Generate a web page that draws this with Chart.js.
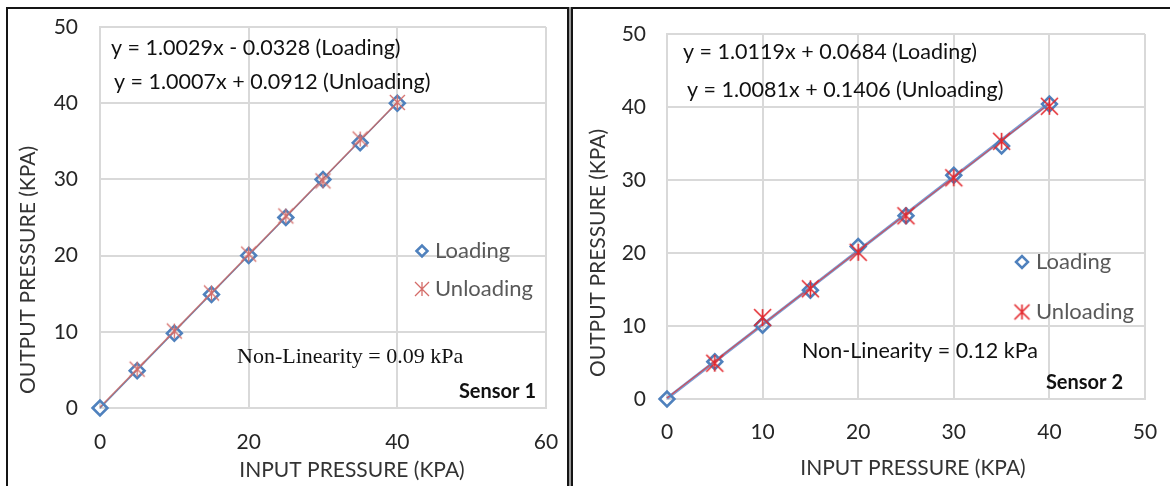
<!DOCTYPE html>
<html>
<head>
<meta charset="utf-8">
<script src="https://cdn.jsdelivr.net/npm/chart.js@4.4.1/dist/chart.umd.min.js"></script>
<style>
  body { margin: 0; background: #fff; }
  #page { position: relative; width: 1170px; height: 486px; overflow: hidden; background: #fff; }
  .frame { position: absolute; box-sizing: border-box; border: 2px solid #151515; }
  #frame1 { left: 6px; top: 7px; width: 563px; height: 540px; }
  #gap { position: absolute; left: 569px; top: 7px; width: 2px; height: 540px; background: #9a9a9a; }
  #frame2 { left: 571px; top: 7px; width: 660px; height: 540px; }
  canvas { position: absolute; top: 0; }
  #sensor1 { left: 0; }
  #sensor2 { left: 574px; }
</style>
</head>
<body>
<div id="page">
  <div class="frame" id="frame1"></div>
  <div id="gap"></div>
  <div class="frame" id="frame2"></div>
  <canvas id="sensor1" width="568" height="486"></canvas>
  <canvas id="sensor2" width="596" height="486"></canvas>
</div>
<script>
// input pressure steps (kPa), shared by both sensors
const inputKpa = [0, 5, 10, 15, 20, 25, 30, 35, 40];
const yTicks = [0, 10, 20, 30, 40, 50];

// sensor 1
const s1XTicks = [0, 20, 40, 60];
const s1Loading = [0, 4.9, 9.8, 14.9, 20.0, 25.0, 30.0, 34.8, 40.0];
const s1Unloading = [null, 5.1, 10.1, 15.1, 20.2, 25.2, 29.8, 35.3, 40.1];
const s1Slopes = [1.0029, 1.0007];
const s1Intercepts = [-0.0328, 0.0912];
const s1NonLin = 0.09;

// sensor 2
const s2XTicks = [0, 10, 20, 30, 40, 50];
const s2Loading = [0, 5.1, 10.1, 14.9, 20.9, 25.1, 30.65, 34.65, 40.4];
const s2Unloading = [null, 4.9, 11.15, 15.1, 20.1, 25.1, 30.3, 35.3, 40.1];
const s2Slopes = [1.0119, 1.0081];
const s2Intercepts = [0.0684, 0.1406];
const s2NonLin = 0.12;

const seriesNames = ['Loading', 'Unloading'];

const SANS = "Lato, 'Liberation Sans', sans-serif";
const GRID = '#D9D9D9';

function toPoints(ys) {
  return inputKpa.map((x, i) => ({ x: x, y: ys[i] })).filter(p => p.y !== null);
}

function fitLine(m, b) {
  const xs = [inputKpa[0], inputKpa[inputKpa.length - 1]];
  return xs.map(x => ({ x: x, y: m * x + b }));
}

function equation(m, b, name) {
  const sign = b < 0 ? '-' : '+';
  return 'y = ' + m.toFixed(4) + 'x ' + sign + ' ' + Math.abs(b).toFixed(4) + ' (' + name + ')';
}

// excel style star: an x with a vertical bar through it
function starMarker(h, color, lw) {
  const c = document.createElement('canvas');
  const s = Math.ceil(2 * h + 4);
  c.width = s; c.height = s;
  const g = c.getContext('2d');
  const m = s / 2;
  g.strokeStyle = color;
  g.lineWidth = lw;
  g.beginPath();
  g.moveTo(m - h, m - h); g.lineTo(m + h, m + h);
  g.moveTo(m + h, m - h); g.lineTo(m - h, m + h);
  g.moveTo(m, m - h); g.lineTo(m, m + h);
  g.stroke();
  return c;
}

function drawDiamond(ctx, x, y, r, color, lw) {
  ctx.beginPath();
  ctx.moveTo(x - r, y);
  ctx.lineTo(x, y - r);
  ctx.lineTo(x + r, y);
  ctx.lineTo(x, y + r);
  ctx.closePath();
  ctx.strokeStyle = color;
  ctx.lineWidth = lw;
  ctx.stroke();
}

// free text, axis titles and the small legend inside the plot
const panelText = {
  id: 'panelText',
  afterDraw(chart, args, opts) {
    const ctx = chart.ctx;
    ctx.save();
    ctx.textBaseline = 'middle';
    opts.items.forEach(t => {
      ctx.save();
      ctx.font = t.font;
      ctx.fillStyle = t.color;
      ctx.textAlign = t.align || 'left';
      ctx.translate(t.x, t.y);
      if (t.rotate) ctx.rotate(t.rotate);
      ctx.fillText(t.text, 0, 0);
      ctx.restore();
    });
    opts.legend.forEach(l => {
      if (l.marker === 'diamond') {
        drawDiamond(ctx, l.x, l.y, l.r, l.markColor, 2.5);
      } else {
        const img = starMarker(l.r, l.markColor, l.lw);
        ctx.drawImage(img, l.x - img.width / 2, l.y - img.height / 2);
      }
      ctx.font = l.font;
      ctx.fillStyle = '#595959';
      ctx.textAlign = 'left';
      ctx.fillText(l.text, l.tx, l.y);
    });
    ctx.restore();
  }
};

// keep the plot area where the layout padding puts it
function noScalePadding(s) {
  s.paddingTop = 0;
  s.paddingBottom = 0;
  s.paddingLeft = 0;
  s.paddingRight = 0;
}

function makeChart(id, p) {
  const xt = p.xTicks;
  const datasets = [
    {
      label: seriesNames[0],
      data: toPoints(p.loading),
      pointStyle: 'rectRot',
      pointRadius: 7.4,
      pointBorderWidth: 2.6,
      pointBorderColor: '#4F81BD',
      pointBackgroundColor: 'rgba(255,255,255,0)',
      showLine: false,
      clip: false,
      order: 2
    },
    {
      label: seriesNames[1],
      data: toPoints(p.unloading),
      pointStyle: starMarker(p.starSize, p.starColor, p.starWidth),
      pointRadius: 7,
      showLine: false,
      clip: false,
      order: 1
    },
    {
      label: 'Loading fit',
      data: fitLine(p.slopes[0], p.intercepts[0]),
      showLine: true,
      borderColor: p.fitColors[0],
      borderWidth: p.fitWidths[0],
      pointRadius: 0,
      clip: false,
      order: 4
    },
    {
      label: 'Unloading fit',
      data: fitLine(p.slopes[1], p.intercepts[1]),
      showLine: true,
      borderColor: p.fitColors[1],
      borderWidth: p.fitWidths[1],
      pointRadius: 0,
      clip: false,
      order: 3
    }
  ];

  return new Chart(document.getElementById(id), {
    type: 'scatter',
    data: { datasets: datasets },
    plugins: [panelText],
    options: {
      responsive: false,
      animation: false,
      layout: { padding: { left: 0, top: p.area.top, right: p.area.right, bottom: 0 } },
      plugins: {
        legend: { display: false },
        tooltip: { enabled: false },
        panelText: { items: p.texts, legend: p.legend }
      },
      scales: {
        x: {
          type: 'linear',
          min: xt[0],
          max: xt[xt.length - 1],
          ticks: { stepSize: xt[1] - xt[0], padding: p.xPad, color: '#262626', font: { family: SANS, size: 21 } },
          grid: { color: GRID, lineWidth: 2, drawTicks: false },
          border: { color: GRID, width: 2 },
          afterFit: s => { s.height = p.area.xHeight; noScalePadding(s); }
        },
        y: {
          type: 'linear',
          min: yTicks[0],
          max: yTicks[yTicks.length - 1],
          ticks: { stepSize: yTicks[1] - yTicks[0], padding: p.yPad, color: '#262626', font: { family: SANS, size: 21 } },
          grid: { color: GRID, lineWidth: 2, drawTicks: false },
          border: { color: GRID, width: 2 },
          afterFit: s => { s.width = p.area.yWidth; noScalePadding(s); }
        }
      }
    }
  });
}

const eqFont = '21.5px ' + SANS;
const titleFont = '21px ' + SANS;
const legendFont = '22px ' + SANS;

makeChart('sensor1', {
  xTicks: s1XTicks,
  loading: s1Loading,
  unloading: s1Unloading,
  slopes: s1Slopes,
  intercepts: s1Intercepts,
  starSize: 7.5, starColor: '#D46C68', starWidth: 1.3,
  fitColors: ['rgba(79,129,189,0.9)', 'rgba(190,100,100,0.85)'],
  fitWidths: [1.2, 1.6],
  area: { top: 27, right: 22, xHeight: 78, yWidth: 100 },
  xPad: 22, yPad: 22,
  texts: [
    { text: 'OUTPUT PRESSURE (KPA)', x: 28, y: 270, rotate: -Math.PI / 2, align: 'center', font: titleFont, color: '#333' },
    { text: 'INPUT PRESSURE (KPA)', x: 352, y: 470, align: 'center', font: titleFont, color: '#333' },
    { text: equation(s1Slopes[0], s1Intercepts[0], seriesNames[0]), x: 111, y: 48, font: eqFont, color: '#111' },
    { text: equation(s1Slopes[1], s1Intercepts[1], seriesNames[1]), x: 114, y: 82, font: eqFont, color: '#111' },
    { text: 'Non-Linearity = ' + s1NonLin.toFixed(2) + ' kPa', x: 237, y: 357, font: "22px 'Liberation Serif', serif", color: '#111' },
    { text: 'Sensor 1', x: 536, y: 392, align: 'right', font: 'bold 20px ' + SANS, color: '#111' }
  ],
  legend: [
    { marker: 'diamond', x: 422, y: 251, r: 5.5, markColor: '#4F81BD', text: seriesNames[0], tx: 435, font: legendFont },
    { marker: 'star', x: 422, y: 289, r: 7, lw: 1.3, markColor: '#D46C68', text: seriesNames[1], tx: 435, font: legendFont }
  ]
});

makeChart('sensor2', {
  xTicks: s2XTicks,
  loading: s2Loading,
  unloading: s2Unloading,
  slopes: s2Slopes,
  intercepts: s2Intercepts,
  starSize: 8.5, starColor: '#E3262B', starWidth: 1.6,
  fitColors: ['#7B9BD2', 'rgba(215,70,75,0.9)'],
  fitWidths: [3, 1.2],
  area: { top: 34, right: 25, xHeight: 87, yWidth: 93 },
  xPad: 21, yPad: 21,
  texts: [
    { text: 'OUTPUT PRESSURE (KPA)', x: 24, y: 253, rotate: -Math.PI / 2, align: 'center', font: titleFont, color: '#333' },
    { text: 'INPUT PRESSURE (KPA)', x: 339, y: 468, align: 'center', font: titleFont, color: '#333' },
    { text: equation(s2Slopes[0], s2Intercepts[0], seriesNames[0]), x: 109, y: 52, font: eqFont, color: '#111' },
    { text: equation(s2Slopes[1], s2Intercepts[1], seriesNames[1]), x: 113, y: 90, font: eqFont, color: '#111' },
    { text: 'Non-Linearity = ' + s2NonLin.toFixed(2) + ' kPa', x: 228, y: 351, font: '21.5px ' + SANS, color: '#111' },
    { text: 'Sensor 2', x: 549, y: 383, align: 'right', font: 'bold 20px ' + SANS, color: '#111' }
  ],
  legend: [
    { marker: 'diamond', x: 448, y: 262, r: 6, markColor: '#4F81BD', text: seriesNames[0], tx: 462, font: legendFont },
    { marker: 'star', x: 448, y: 312, r: 7.5, lw: 1.6, markColor: '#E3262B', text: seriesNames[1], tx: 462, font: legendFont }
  ]
});
</script>
</body>
</html>
